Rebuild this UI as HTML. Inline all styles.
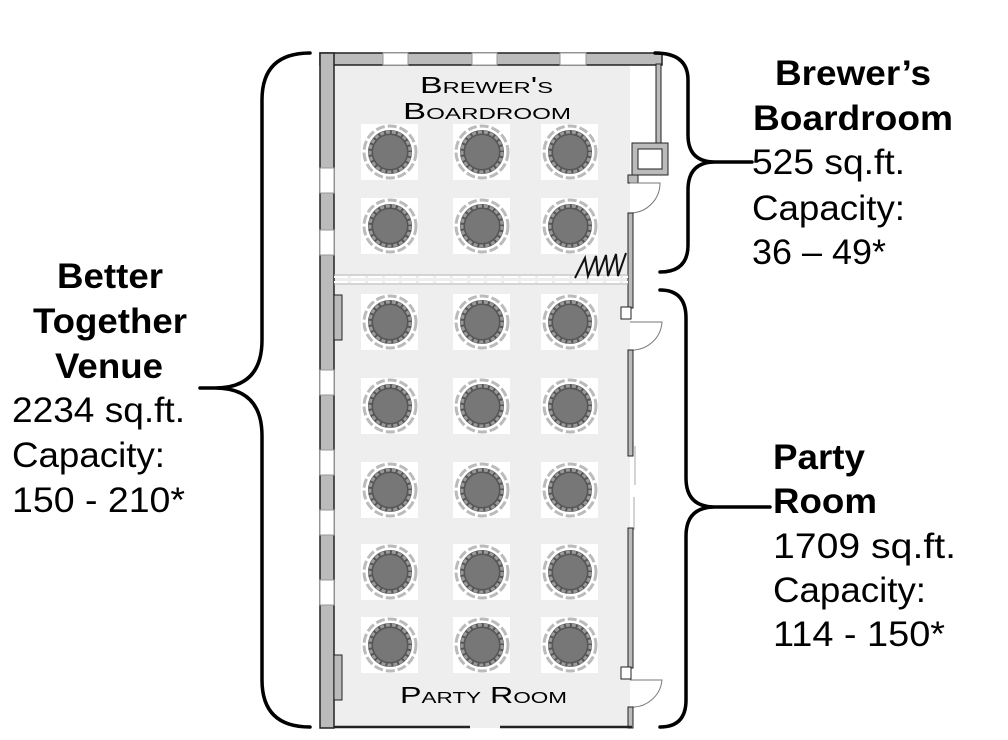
<!DOCTYPE html>
<html><head><meta charset="utf-8"><style>
body{margin:0;background:#fff}
svg{display:block}
text{font-family:"Liberation Sans",sans-serif;fill:#000}
</style></head><body>
<svg width="1008" height="740" viewBox="0 0 1008 740" xmlns="http://www.w3.org/2000/svg">
<defs>
<g id="t">
<rect x="-29" y="-28" width="57" height="56" fill="#fff"/>
<circle r="26" fill="none" stroke="#bbb" stroke-width="3" stroke-dasharray="9 3"/>
<circle r="22" fill="#555"/>
<circle r="20" fill="none" stroke="#999" stroke-width="3" stroke-dasharray="4 2"/>
<circle r="17" fill="#777"/>
</g>
</defs>
<rect x="334" y="64" width="296" height="664" fill="#eee"/>
<rect x="320" y="53" width="342" height="12" fill="#bbb" stroke="#222" stroke-width="1.5"/>
<rect x="383" y="53" width="25" height="12" fill="#fff" stroke="#999"/>
<rect x="472" y="53" width="25" height="12" fill="#fff" stroke="#999"/>
<rect x="560" y="53" width="26" height="12" fill="#fff" stroke="#999"/>
<rect x="320" y="53" width="14" height="675" fill="#bbb" stroke="#222" stroke-width="1.5"/>
<rect x="320" y="168" width="14" height="25" fill="#fff" stroke="#999"/>
<rect x="320" y="230" width="14" height="25" fill="#fff" stroke="#999"/>
<rect x="320" y="370" width="14" height="25" fill="#fff" stroke="#999"/>
<rect x="320" y="450" width="14" height="25" fill="#fff" stroke="#999"/>
<rect x="320" y="510" width="14" height="25" fill="#fff" stroke="#999"/>
<rect x="320" y="580" width="14" height="25" fill="#fff" stroke="#999"/>
<rect x="334" y="295" width="8" height="45" fill="#bbb" stroke="#222"/>
<rect x="334" y="655" width="8" height="45" fill="#bbb" stroke="#222"/>
<rect x="656" y="64" width="5" height="80" fill="#bbb" stroke="#222"/>
<rect x="632" y="143" width="36" height="32" fill="#bbb" stroke="#222"/>
<rect x="638" y="149" width="24" height="20" fill="#fff" stroke="#222"/>
<rect x="628" y="175" width="10" height="8" fill="#bbb" stroke="#222"/>
<path d="M630 183 H660 A30 30 0 0 1 630 213" fill="none" stroke="#777"/>
<rect x="628" y="213" width="5" height="95" fill="#bbb" stroke="#222"/>
<rect x="621" y="307" width="10" height="12" fill="#fff" stroke="#222"/>
<path d="M630 322 H662 A30 30 0 0 1 630 350" fill="none" stroke="#777"/>
<rect x="628" y="350" width="5" height="106" fill="#bbb" stroke="#222"/>
<line x1="635" y1="446" x2="635" y2="485" stroke="#aaa"/>
<line x1="634" y1="497" x2="634" y2="530" stroke="#aaa"/>
<rect x="628" y="528" width="5" height="140" fill="#bbb" stroke="#222"/>
<rect x="621" y="667" width="10" height="12" fill="#fff" stroke="#222"/>
<path d="M630 680 H662 A30 30 0 0 1 630 707" fill="none" stroke="#777"/>
<rect x="628" y="707" width="5" height="21" fill="#bbb" stroke="#222"/>
<path d="M334 727 H470 M500 727 H632" stroke="#222" stroke-width="2.5"/>
<path d="M334 277 H628 M334 282 H628" stroke="#fff" stroke-width="2" stroke-dasharray="14 3"/>
<path d="M334 275 H628 M334 284 H628" stroke="#bbb" stroke-width="1"/>
<path d="M575 278 L585 258 L588 276 L596 256 L598 276 L606 255 L608 276 L616 254 L618 276 L626 253" fill="none" stroke="#111" stroke-width="2"/>
<use href="#t" x="390" y="152"/><use href="#t" x="482" y="152"/><use href="#t" x="570" y="152"/>
<use href="#t" x="390" y="226"/><use href="#t" x="482" y="226"/><use href="#t" x="570" y="226"/>
<use href="#t" x="390" y="322"/><use href="#t" x="482" y="322"/><use href="#t" x="570" y="322"/>
<use href="#t" x="390" y="406"/><use href="#t" x="482" y="406"/><use href="#t" x="570" y="406"/>
<use href="#t" x="390" y="490"/><use href="#t" x="482" y="490"/><use href="#t" x="570" y="490"/>
<use href="#t" x="390" y="572"/><use href="#t" x="482" y="572"/><use href="#t" x="570" y="572"/>
<use href="#t" x="390" y="645"/><use href="#t" x="482" y="645"/><use href="#t" x="570" y="645"/>
<g font-size="23" style="font-variant:small-caps" fill="#222">
<text x="420" y="93" textLength="133" lengthAdjust="spacingAndGlyphs">Brewer's</text>
<text x="403" y="119" textLength="168" lengthAdjust="spacingAndGlyphs">Boardroom</text>
<text x="400" y="703" textLength="167" lengthAdjust="spacingAndGlyphs">Party Room</text>
</g>
<g fill="none" stroke="#000" stroke-width="3.5" stroke-linecap="round">
<path d="M310 53 Q262 53 262 100 V340 Q262 388 215 388 H200 M215 388 Q262 388 262 436 V680 Q262 727 310 727"/>
<path d="M655 53 Q688 53 688 80 V135 Q688 162 715 162 H752 M715 162 Q688 162 688 190 V245 Q688 272 660 272"/>
<path d="M660 290 Q686 290 686 318 V478 Q686 507 715 507 H770 M715 507 Q686 507 686 536 V700 Q686 727 660 727"/>
</g>
<g font-size="35">
<text x="57" y="288" font-weight="bold" textLength="106" lengthAdjust="spacingAndGlyphs">Better</text>
<text x="33" y="333" font-weight="bold" textLength="154" lengthAdjust="spacingAndGlyphs">Together</text>
<text x="55" y="378" font-weight="bold" textLength="108" lengthAdjust="spacingAndGlyphs">Venue</text>
<text x="12" y="422" textLength="173" lengthAdjust="spacingAndGlyphs">2234 sq.ft.</text>
<text x="12" y="467" textLength="153" lengthAdjust="spacingAndGlyphs">Capacity:</text>
<text x="12" y="512" textLength="173" lengthAdjust="spacingAndGlyphs">150 - 210*</text>
<text x="775" y="85" font-weight="bold" textLength="156" lengthAdjust="spacingAndGlyphs">Brewer’s</text>
<text x="753" y="130" font-weight="bold" textLength="200" lengthAdjust="spacingAndGlyphs">Boardroom</text>
<text x="752" y="174" textLength="153" lengthAdjust="spacingAndGlyphs">525 sq.ft.</text>
<text x="752" y="220" textLength="153" lengthAdjust="spacingAndGlyphs">Capacity:</text>
<text x="752" y="264" textLength="134" lengthAdjust="spacingAndGlyphs">36 – 49*</text>
<text x="773" y="469" font-weight="bold" textLength="92" lengthAdjust="spacingAndGlyphs">Party</text>
<text x="773" y="513" font-weight="bold" textLength="104" lengthAdjust="spacingAndGlyphs">Room</text>
<text x="773" y="558" textLength="183" lengthAdjust="spacingAndGlyphs">1709  sq.ft.</text>
<text x="773" y="602" textLength="153" lengthAdjust="spacingAndGlyphs">Capacity:</text>
<text x="773" y="646" textLength="172" lengthAdjust="spacingAndGlyphs">114 - 150*</text>
</g>
</svg>
</body></html>
